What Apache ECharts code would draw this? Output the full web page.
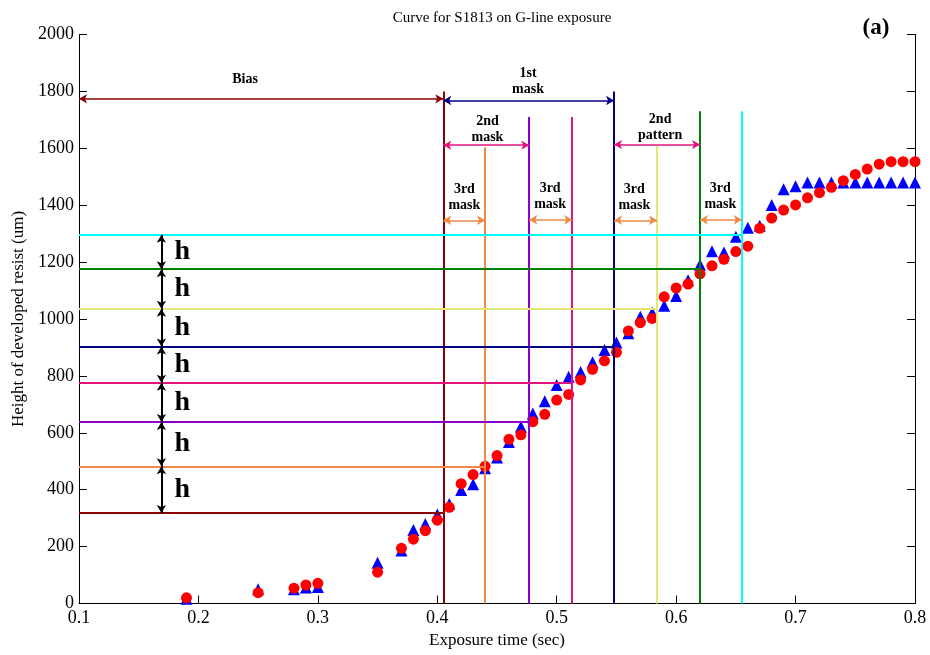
<!DOCTYPE html>
<html>
<head>
<meta charset="utf-8">
<script src="https://cdn.jsdelivr.net/npm/echarts@6/dist/echarts.min.js"></script>
<style>html,body{margin:0;padding:0;background:#fff}#c{width:930px;height:655px}</style>
</head>
<body>
<div id="c"></div>
<script>
// ---- data ----
const exposureTimes = [0.19,0.25,0.28,0.29,0.30,0.35,0.37,0.38,0.39,0.40,0.41,0.42,0.43,0.44,0.45,0.46,0.47,0.48,0.49,0.50,0.51,0.52,0.53,0.54,0.55,0.56,0.57,0.58,0.59,0.60,0.61,0.62,0.63,0.64,0.65,0.66,0.67,0.68,0.69,0.70,0.71,0.72,0.73,0.74,0.75,0.76,0.77,0.78,0.79,0.80];
const heightsCircle = [20,38,54,65,71,110,194,226,256,293,338,421,453,482,520,577,593,639,665,715,735,786,823,853,883,958,987,1002,1078,1109,1123,1159,1187,1210,1237,1256,1319,1355,1383,1401,1426,1444,1463,1486,1508,1527,1544,1553,1553,1553];
const heightsTriangle = [17,50,50,56,58,143,186,258,279,313,350,399,419,475,513,568,621,668,711,768,797,814,848,891,917,950,1008,1022,1047,1081,1136,1191,1238,1234,1289,1321,1328,1401,1456,1467,1480,1480,1480,1480,1480,1480,1480,1480,1480,1480];
// guide levels: horizontal line heights, matching vertical line times, vertical line tops
const levelHeights = [318,482,638,776,903,1036,1175,1296];
const levelTimes   = [0.405,0.44,0.477,0.513,0.548,0.584,0.62,0.655];
const levelTops    = [1800,1603,1710,1710,1800,1608,1730,1730];
const hArrowTime = 0.169;
// span arrows: [start, end, height]
const spanBias    = [0.1, 0.405, 1774];
const span1stMask = [0.405, 0.548, 1768];
const span2ndMask = [0.405, 0.477, 1611];
const span2ndPat  = [0.548, 0.62, 1613];
const spans3rdMask = [[0.405,0.44,1347],[0.477,0.513,1349],[0.548,0.584,1347],[0.62,0.655,1349]];
// text annotations: [x, y, text]
const spanLabels = [
  [0.239, 1842, 'Bias'],
  [0.476, 1834, '1st\nmask'],
  [0.442, 1665, '2nd\nmask'],
  [0.5866, 1673, '2nd\npattern'],
  [0.4227, 1426, '3rd\nmask'],
  [0.4945, 1432, '3rd\nmask'],
  [0.565, 1426, '3rd\nmask'],
  [0.637, 1432, '3rd\nmask']
];
const hLabelTime = 0.1865;
const xTicks = [0.1,0.2,0.3,0.4,0.5,0.6,0.7,0.8];

// ---- styles ----
const levelColors = ['#8B0000','#EE8844','#8B00CC','#E2137F','#000080','#E5E57A','#007F00','#00FFFF'];
const FONT = 'Liberation Serif';

const chart = echarts.init(document.getElementById('c'));

const guideLines = [];
levelHeights.forEach((h, i) => {
  guideLines.push([{coord:[0.1, h], lineStyle:{color:levelColors[i], width:2, type:'solid'}}, {coord:[levelTimes[i], h]}]);
  guideLines.push([{coord:[levelTimes[i], 0], lineStyle:{color:levelColors[i], width:2, type:'solid'}}, {coord:[levelTimes[i], levelTops[i]]}]);
});

function arrow(s, color) {
  return [{coord:[s[0], s[2]], lineStyle:{color:color, width:1.5, type:'solid'}, itemStyle:{color:color}}, {coord:[s[1], s[2]]}];
}
const arrows = [
  arrow(spanBias, '#8B0000'),
  arrow(span1stMask, '#000080'),
  arrow(span2ndMask, '#E2137F'),
  arrow(span2ndPat, '#E2137F')
].concat(spans3rdMask.map(s => arrow(s, '#EE8844')));

const hArrows = [];
for (let i = 0; i < levelHeights.length - 1; i++) {
  hArrows.push([{coord:[hArrowTime, levelHeights[i]], lineStyle:{color:'#000', width:2, type:'solid'}, itemStyle:{color:'#000'}}, {coord:[hArrowTime, levelHeights[i+1]]}]);
}
const hLabels = [];
for (let i = 0; i < levelHeights.length - 1; i++) {
  hLabels.push([hLabelTime, (levelHeights[i] + levelHeights[i+1]) / 2, 'h']);
}

chart.setOption({
  animation: false,
  backgroundColor: '#ffffff',
  title: [
    {text: 'Curve for S1813 on G-line exposure', left: 497, top: 6, textAlign: 'center',
     textStyle: {fontFamily: FONT, fontSize: 15, fontWeight: 'normal', color: '#000'}},
    {text: '(a)', left: 871, top: 12, textAlign: 'center',
     textStyle: {fontFamily: FONT, fontSize: 23, fontWeight: 'bold', color: '#000'}}
  ],
  grid: {left: 79, right: 15, top: 34.5, bottom: 51.5, containLabel: false},
  xAxis: {
    type: 'value', min: 0.1, max: 0.8, interval: 0.1,
    name: 'Exposure time (sec)', nameLocation: 'middle', nameGap: 27,
    nameTextStyle: {fontFamily: FONT, fontSize: 17, color: '#000'},
    axisLine: {show: true, onZero: false, lineStyle: {color: '#000', width: 1}},
    axisTick: {show: true, inside: true, length: 8, lineStyle: {color: '#000'}},
    axisLabel: {fontFamily: FONT, fontSize: 18, color: '#000', margin: 6, formatter: v => v.toFixed(1)},
    splitLine: {show: false}
  },
  yAxis: [
    {
      type: 'value', min: 0, max: 2000, interval: 200,
      name: 'Height of developed resist (um)', nameLocation: 'middle', nameGap: 51, nameRotate: 90,
      nameTextStyle: {fontFamily: FONT, fontSize: 17, color: '#000'},
      axisLine: {show: true, lineStyle: {color: '#000', width: 1}},
      axisTick: {show: true, inside: true, length: 8, lineStyle: {color: '#000'}},
      axisLabel: {fontFamily: FONT, fontSize: 18, color: '#000', margin: 5, formatter: v => String(v)},
      splitLine: {show: false}
    },
    {
      type: 'value', min: 0, max: 2000, interval: 200, position: 'right',
      axisLine: {show: true, lineStyle: {color: '#000', width: 1}},
      axisTick: {show: true, inside: true, length: 8, lineStyle: {color: '#000'}},
      axisLabel: {show: false},
      splitLine: {show: false}
    }
  ],
  series: [
    {
      type: 'line', data: [], z: 1, silent: true,
      markLine: {silent: true, symbol: ['none','none'], label: {show: false}, animation: false, data: guideLines}
    },
    {
      type: 'line', data: [], z: 2, silent: true,
      markLine: {silent: true, symbol: ['arrow','arrow'], symbolSize: [7, 8], label: {show: false}, animation: false, data: arrows.concat(hArrows)}
    },
    {
      type: 'scatter', z: 3, name: 'triangle', symbol: 'triangle', symbolSize: 12,
      itemStyle: {color: '#0000FF', opacity: 1},
      data: exposureTimes.map((t, i) => [t, heightsTriangle[i]])
    },
    {
      type: 'scatter', z: 3, name: 'circle', symbol: 'circle', symbolSize: 11,
      itemStyle: {color: '#FF0000', opacity: 1},
      data: exposureTimes.map((t, i) => [t, heightsCircle[i]])
    },
    {
      type: 'scatter', z: 4, silent: true, symbolSize: 0, itemStyle: {opacity: 1},
      label: {show: true, position: 'inside', formatter: p => p.data[2], opacity: 1,
        fontFamily: FONT, fontSize: 14, fontWeight: 'bold', color: '#000', lineHeight: 16, align: 'center', verticalAlign: 'middle'},
      data: spanLabels
    },
    {
      type: 'scatter', z: 4, silent: true, symbolSize: 0, itemStyle: {opacity: 1},
      label: {show: true, position: 'inside', formatter: p => p.data[2], opacity: 1,
        fontFamily: FONT, fontSize: 28, fontWeight: 'bold', color: '#000', align: 'center', verticalAlign: 'middle'},
      data: hLabels
    }
  ]
});
</script>
</body>
</html>
